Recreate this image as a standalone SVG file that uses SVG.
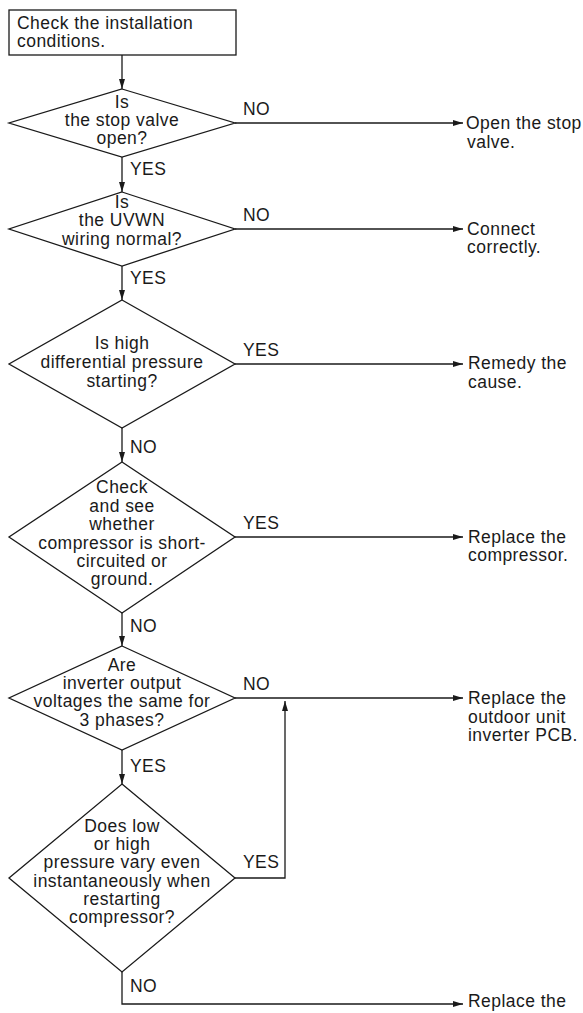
<svg xmlns="http://www.w3.org/2000/svg" width="583" height="1013" viewBox="0 0 583 1013">
<style>
text{font-family:"Liberation Sans",Arial,Helvetica,sans-serif;font-size:17.5px;letter-spacing:0.45px;fill:#1a1a1a}
.c{text-anchor:middle}
.shape{fill:#fff;stroke:#1a1a1a;stroke-width:1.3}
.ln{fill:none;stroke:#1a1a1a;stroke-width:1.3}
</style>
<defs>
<marker id="ah" markerUnits="userSpaceOnUse" markerWidth="11" markerHeight="7" refX="10" refY="3" orient="auto">
<path d="M0,0 L10,3 L0,6 z" fill="#1a1a1a"/>
</marker>
</defs>
<g id="connectors">
<line class="ln" x1="122" y1="55" x2="122" y2="89" marker-end="url(#ah)"/>
<line class="ln" x1="235" y1="123" x2="463" y2="123" marker-end="url(#ah)"/>
<line class="ln" x1="122" y1="157" x2="122" y2="192" marker-end="url(#ah)"/>
<line class="ln" x1="235" y1="229" x2="463" y2="229" marker-end="url(#ah)"/>
<line class="ln" x1="122" y1="266" x2="122" y2="300" marker-end="url(#ah)"/>
<line class="ln" x1="235" y1="364" x2="463" y2="364" marker-end="url(#ah)"/>
<line class="ln" x1="122" y1="428" x2="122" y2="462" marker-end="url(#ah)"/>
<line class="ln" x1="235" y1="537" x2="463" y2="537" marker-end="url(#ah)"/>
<line class="ln" x1="122" y1="613" x2="122" y2="646" marker-end="url(#ah)"/>
<line class="ln" x1="235" y1="698" x2="463" y2="698" marker-end="url(#ah)"/>
<line class="ln" x1="122" y1="750" x2="122" y2="784" marker-end="url(#ah)"/>
<polyline class="ln" points="235,878 285,878 285,701" marker-end="url(#ah)"/>
<polyline class="ln" points="122,972 122,1004 463,1004" marker-end="url(#ah)"/>
<text x="130" y="175">YES</text>
<text x="243" y="115">NO</text>
<text x="130" y="284">YES</text>
<text x="243" y="221">NO</text>
<text x="243" y="356">YES</text>
<text x="130" y="453">NO</text>
<text x="243" y="529">YES</text>
<text x="130" y="632">NO</text>
<text x="243" y="690">NO</text>
<text x="130" y="772">YES</text>
<text x="243" y="868">YES</text>
<text x="130" y="992">NO</text>
</g>
<g id="start">
<rect class="shape" x="9" y="10" width="227" height="45"/>
<text x="17" y="29">Check the installation</text>
<text x="17" y="47">conditions.</text>
</g>
<g id="d1">
<polygon class="shape" points="122,89 235,123 122,157 9,123"/>
<text class="c" x="122" y="108">Is</text>
<text class="c" x="122" y="126">the stop valve</text>
<text class="c" x="122" y="144">open?</text>
</g>
<g id="d2">
<polygon class="shape" points="122,192 235,229 122,266 9,229"/>
<text class="c" x="122" y="208">Is</text>
<text class="c" x="122" y="226">the UVWN</text>
<text class="c" x="122" y="245">wiring normal?</text>
</g>
<g id="d3">
<polygon class="shape" points="122,300 235,364 122,428 9,364"/>
<text class="c" x="122" y="349">Is high</text>
<text class="c" x="122" y="368">differential pressure</text>
<text class="c" x="122" y="387">starting?</text>
</g>
<g id="d4">
<polygon class="shape" points="122,462 235,537 122,613 9,537"/>
<text class="c" x="122" y="493">Check</text>
<text class="c" x="122" y="512">and see</text>
<text class="c" x="122" y="530">whether</text>
<text class="c" x="122" y="549">compressor is short-</text>
<text class="c" x="122" y="567">circuited or</text>
<text class="c" x="122" y="585">ground.</text>
</g>
<g id="d5">
<polygon class="shape" points="122,646 235,698 122,750 9,698"/>
<text class="c" x="122" y="671">Are</text>
<text class="c" x="122" y="689">inverter output</text>
<text class="c" x="122" y="707">voltages the same for</text>
<text class="c" x="122" y="726">3 phases?</text>
</g>
<g id="d6">
<polygon class="shape" points="122,784 235,878 122,972 9,878"/>
<text class="c" x="122" y="832">Does low</text>
<text class="c" x="122" y="850">or high</text>
<text class="c" x="122" y="868">pressure vary even</text>
<text class="c" x="122" y="887">instantaneously when</text>
<text class="c" x="122" y="905">restarting</text>
<text class="c" x="122" y="923">compressor?</text>
</g>
<g id="r1">
<text x="466" y="129">Open the stop</text>
<text x="467" y="148">valve.</text>
</g>
<g id="r2">
<text x="467" y="235">Connect</text>
<text x="467" y="253">correctly.</text>
</g>
<g id="r3">
<text x="468" y="369">Remedy the</text>
<text x="468" y="388">cause.</text>
</g>
<g id="r4">
<text x="468" y="543">Replace the</text>
<text x="468" y="561">compressor.</text>
</g>
<g id="r5">
<text x="468" y="704">Replace the</text>
<text x="468" y="723">outdoor unit</text>
<text x="468" y="741">inverter PCB.</text>
</g>
<g id="r6">
<text x="468" y="1007">Replace the</text>
</g>
</svg>
